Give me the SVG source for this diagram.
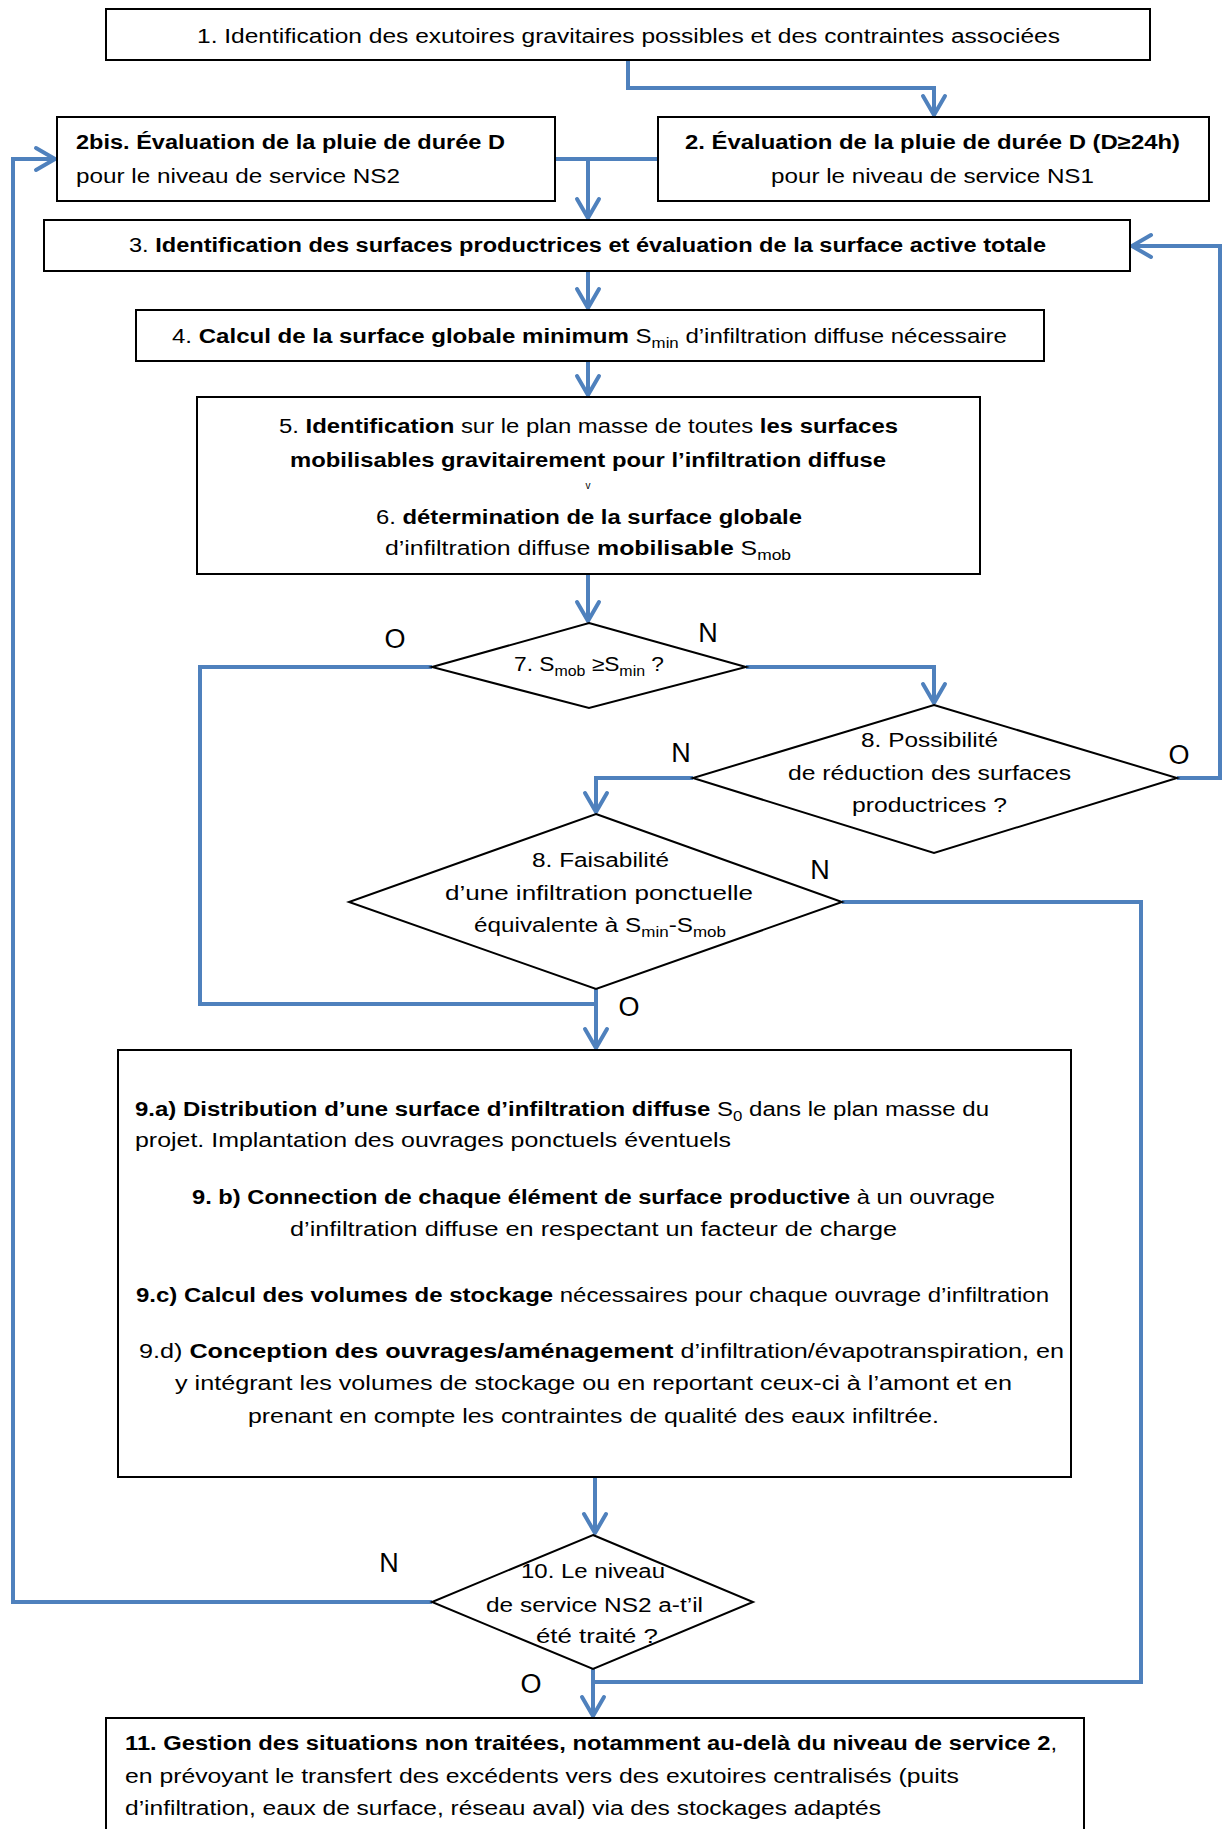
<svg xmlns="http://www.w3.org/2000/svg" width="1224" height="1829" viewBox="0 0 1224 1829">
<style>
.t{font-family:"Liberation Sans",Arial,sans-serif;font-size:20px;fill:#000}
.b{font-weight:bold}
.s{font-size:14px}
.lab{font-family:"Liberation Sans",Arial,sans-serif;font-size:27px;fill:#000;text-anchor:middle}
.box{fill:#fff;stroke:#000;stroke-width:2}
.c{fill:none;stroke:#4F81BD;stroke-width:4;stroke-linejoin:miter}
.a{marker-end:url(#arr)}
</style>
<defs>
<marker id="arr" markerUnits="userSpaceOnUse" viewBox="-24 -14 28 28" markerWidth="28" markerHeight="28" refX="0" refY="0" orient="auto">
<path d="M-19,-11 L0,0 L-19,11" fill="none" stroke="#4F81BD" stroke-width="4" stroke-linecap="round" stroke-linejoin="round"/>
</marker>
</defs>
<rect width="1224" height="1829" fill="#fff"/>

<g id="connectors">
<path class="c a" d="M628,60 V88 H934 V115"/>
<path class="c" d="M556,159 H658"/>
<path class="c a" d="M588,159 V218"/>
<path class="c a" d="M588,271 V308"/>
<path class="c a" d="M588,361 V395"/>
<path class="c a" d="M588,574 V621"/>
<path class="c" d="M432,667 H200 V1004 H596"/>
<path class="c a" d="M746,667 H934 V703"/>
<path class="c a" d="M1177,778 H1220 V246 H1132"/>
<path class="c a" d="M693,778 H596 V812"/>
<path class="c" d="M842,902 H1141 V1682 H593"/>
<path class="c a" d="M596,989 V1048"/>
<path class="c a" d="M595,1477 V1533"/>
<path class="c a" d="M432,1602 H13 V159 H55"/>
<path class="c a" d="M593,1669 V1716"/>
</g>

<g id="n1">
<rect class="box" x="106" y="9" width="1044" height="51"/>
<text class="t" x="197" y="43" textLength="863" lengthAdjust="spacingAndGlyphs">1. Identification des exutoires gravitaires possibles et des contraintes associées</text>
</g>

<g id="n2bis">
<rect class="box" x="57" y="117" width="498" height="84"/>
<text class="t b" x="76" y="149" textLength="429" lengthAdjust="spacingAndGlyphs">2bis. Évaluation de la pluie de durée D</text>
<text class="t" x="76" y="183" textLength="324" lengthAdjust="spacingAndGlyphs">pour le niveau de service NS2</text>
</g>

<g id="n2">
<rect class="box" x="658" y="117" width="551" height="84"/>
<text class="t b" x="685" y="149" textLength="495" lengthAdjust="spacingAndGlyphs">2. Évaluation de la pluie de durée D (D≥24h)</text>
<text class="t" x="771" y="183" textLength="323" lengthAdjust="spacingAndGlyphs">pour le niveau de service NS1</text>
</g>

<g id="n3">
<rect class="box" x="44" y="220" width="1086" height="51"/>
<text class="t" x="129" y="252" textLength="917" lengthAdjust="spacingAndGlyphs">3. <tspan class="b">Identification des surfaces productrices et évaluation de la surface active totale</tspan></text>
</g>

<g id="n4">
<rect class="box" x="136" y="310" width="908" height="51"/>
<text class="t" x="172" y="343" textLength="835" lengthAdjust="spacingAndGlyphs">4. <tspan class="b">Calcul de la surface globale minimum</tspan> S<tspan class="s" dy="5">min</tspan><tspan dy="-5"> d’infiltration diffuse nécessaire</tspan></text>
</g>

<g id="n5">
<rect class="box" x="197" y="397" width="783" height="177"/>
<text class="t" x="279" y="433" textLength="619" lengthAdjust="spacingAndGlyphs">5. <tspan class="b">Identification</tspan> sur le plan masse de toutes <tspan class="b">les surfaces</tspan></text>
<text class="t b" x="290" y="467" textLength="596" lengthAdjust="spacingAndGlyphs">mobilisables gravitairement pour l’infiltration diffuse</text>
<text class="t" x="588" y="489" style="font-size:10px" text-anchor="middle">v</text>
<text class="t" x="376" y="524" textLength="426" lengthAdjust="spacingAndGlyphs">6. <tspan class="b">détermination de la surface globale</tspan></text>
<text class="t" x="385" y="555" textLength="406" lengthAdjust="spacingAndGlyphs">d’infiltration diffuse <tspan class="b">mobilisable</tspan> S<tspan class="s" dy="5">mob</tspan></text>
</g>

<g id="d7">
<polygon class="box" points="589,623 746,667 589,708 432,667"/>
<text class="t" x="514" y="671" textLength="150" lengthAdjust="spacingAndGlyphs">7. S<tspan class="s" dy="5">mob</tspan><tspan dy="-5"> ≥S</tspan><tspan class="s" dy="5">min</tspan><tspan dy="-5"> ?</tspan></text>
</g>

<g id="d8a">
<polygon class="box" points="934,705 1177,778 934,853 693,778"/>
<text class="t" x="861" y="747" textLength="137" lengthAdjust="spacingAndGlyphs">8. Possibilité</text>
<text class="t" x="788" y="780" textLength="283" lengthAdjust="spacingAndGlyphs">de réduction des surfaces</text>
<text class="t" x="852" y="812" textLength="155" lengthAdjust="spacingAndGlyphs">productrices ?</text>
</g>

<g id="d8b">
<polygon class="box" points="596,814 842,902 596,989 349,902"/>
<text class="t" x="532" y="867" textLength="137" lengthAdjust="spacingAndGlyphs">8. Faisabilité</text>
<text class="t" x="445" y="900" textLength="308" lengthAdjust="spacingAndGlyphs">d’une infiltration ponctuelle</text>
<text class="t" x="474" y="932" textLength="252" lengthAdjust="spacingAndGlyphs">équivalente à S<tspan class="s" dy="5">min</tspan><tspan dy="-5">-S</tspan><tspan class="s" dy="5">mob</tspan></text>
</g>

<g id="n9">
<rect class="box" x="118" y="1050" width="953" height="427"/>
<text class="t" x="135" y="1116" textLength="854" lengthAdjust="spacingAndGlyphs"><tspan class="b">9.a) Distribution  d’une surface d’infiltration diffuse</tspan> S<tspan class="s" dy="5">0</tspan><tspan dy="-5"> dans le plan masse du</tspan></text>
<text class="t" x="135" y="1147" textLength="596" lengthAdjust="spacingAndGlyphs">projet. Implantation des ouvrages ponctuels éventuels</text>
<text class="t" x="192" y="1204" textLength="803" lengthAdjust="spacingAndGlyphs"><tspan class="b">9. b) Connection de chaque élément de surface productive</tspan> à un ouvrage</text>
<text class="t" x="290" y="1236" textLength="607" lengthAdjust="spacingAndGlyphs">d’infiltration diffuse en respectant un facteur de charge</text>
<text class="t" x="136" y="1302" textLength="913" lengthAdjust="spacingAndGlyphs"><tspan class="b">9.c) Calcul des volumes de stockage</tspan> nécessaires pour chaque ouvrage d’infiltration</text>
<text class="t" x="139" y="1358" textLength="925" lengthAdjust="spacingAndGlyphs">9.d) <tspan class="b">Conception des ouvrages/aménagement</tspan> d’infiltration/évapotranspiration, en</text>
<text class="t" x="175" y="1390" textLength="837" lengthAdjust="spacingAndGlyphs">y intégrant  les volumes de stockage ou en reportant ceux-ci à l’amont et  en</text>
<text class="t" x="248" y="1423" textLength="691" lengthAdjust="spacingAndGlyphs">prenant en compte les contraintes de qualité des eaux infiltrée.</text>
</g>

<g id="d10">
<polygon class="box" points="593,1535 753,1602 593,1669 432,1602"/>
<text class="t" x="521" y="1578" textLength="144" lengthAdjust="spacingAndGlyphs">10. Le niveau</text>
<text class="t" x="486" y="1612" textLength="217" lengthAdjust="spacingAndGlyphs">de service NS2 a-t’il</text>
<text class="t" x="536" y="1643" textLength="122" lengthAdjust="spacingAndGlyphs">été traité ?</text>
</g>

<g id="n11">
<rect class="box" x="106" y="1718" width="978" height="125"/>
<text class="t" x="125" y="1750" textLength="932" lengthAdjust="spacingAndGlyphs"><tspan class="b">11. Gestion des situations non traitées, notamment au-delà du niveau de service 2</tspan>,</text>
<text class="t" x="125" y="1783" textLength="834" lengthAdjust="spacingAndGlyphs">en prévoyant le transfert des excédents vers des exutoires centralisés (puits</text>
<text class="t" x="125" y="1815" textLength="756" lengthAdjust="spacingAndGlyphs">d’infiltration, eaux de surface, réseau aval) via des stockages adaptés</text>
</g>

<g id="labels">
<text class="lab" x="395" y="648">O</text>
<text class="lab" x="708" y="642">N</text>
<text class="lab" x="681" y="762">N</text>
<text class="lab" x="1179" y="764">O</text>
<text class="lab" x="820" y="879">N</text>
<text class="lab" x="629" y="1016">O</text>
<text class="lab" x="389" y="1572">N</text>
<text class="lab" x="531" y="1693">O</text>
</g>
</svg>
